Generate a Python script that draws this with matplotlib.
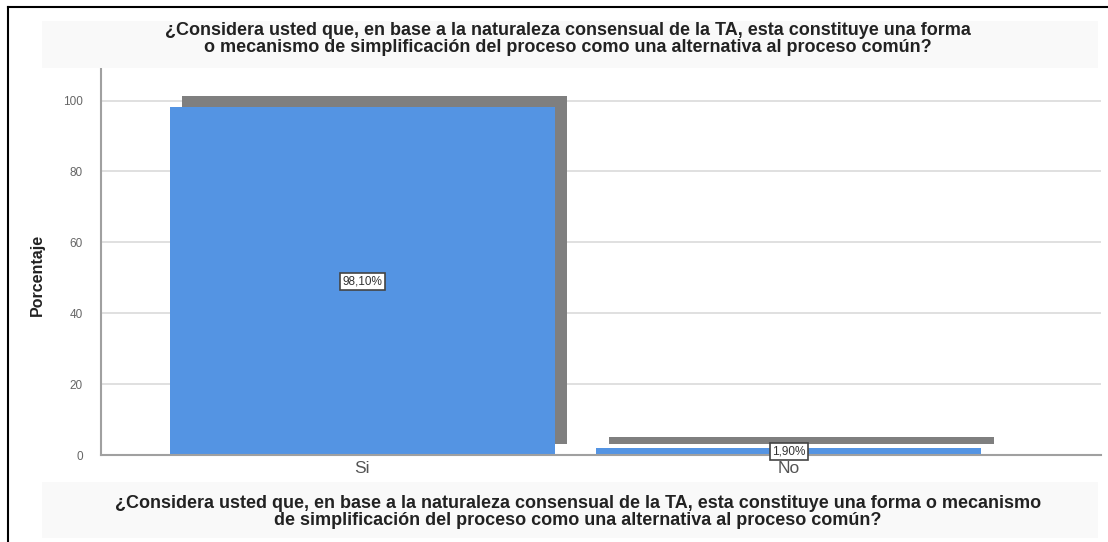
import matplotlib
matplotlib.use("Agg")
import matplotlib.pyplot as plt
import matplotlib.transforms as mtransforms
from matplotlib.patches import Rectangle
from matplotlib.lines import Line2D

# data
categorias = ["Si", "No"]
porcentajes = [98.1, 1.9]
etiquetas = ["98,10%", "1,90%"]
titulo = ("¿Considera usted que, en base a la naturaleza consensual de la TA, esta constituye una forma\n"
          "o mecanismo de simplificación del proceso como una alternativa al proceso común?")
titulo_x = ("¿Considera usted que, en base a la naturaleza consensual de la TA, esta constituye una forma o mecanismo\n"
            "de simplificación del proceso como una alternativa al proceso común?")
yticks = [0, 20, 40, 60, 80, 100]

azul = "#5494e3"
sombra = "#7f7f7f"
W, H = 1108, 542

plt.rcParams['font.family'] = ['Liberation Sans', 'DejaVu Sans']
fig = plt.figure(figsize=(W / 100, H / 100), dpi=100)
fig.patch.set_facecolor("white")

# light bands behind the titles
fig.patches.append(Rectangle((42 / W, 1 - 68 / H), (1098 - 42) / W, 47 / H,
                             transform=fig.transFigure, facecolor="#f9f9f9", edgecolor="none", zorder=0))
fig.patches.append(Rectangle((42 / W, 1 - 538 / H), (1098 - 42) / W, 56 / H,
                             transform=fig.transFigure, facecolor="#f9f9f9", edgecolor="none", zorder=0))
# outer frame lines (left and top)
fig.add_artist(Line2D([8 / W, 8 / W], [0, 1 - 7 / H], transform=fig.transFigure, color="black", lw=1.5))
fig.add_artist(Line2D([8 / W, 1], [1 - 7 / H, 1 - 7 / H], transform=fig.transFigure, color="black", lw=1.5))

ax = fig.add_axes([101 / W, 1 - 455 / H, (1101 - 101) / W, (455 - 69) / H])
ax.set_facecolor("none")

x = list(range(len(categorias)))
# shadow bars: same bars shifted right and up
offset = mtransforms.ScaledTranslation(12.5 / 100, 11.5 / 100, fig.dpi_scale_trans)
ax.bar(x, porcentajes, width=0.903, color=sombra, zorder=2,
       transform=ax.transData + offset)
ax.bar(x, porcentajes, width=0.903, color=azul, zorder=3)

for i, (v, t) in enumerate(zip(porcentajes, etiquetas)):
    ax.text(i, v / 2, t, ha="center", va="center", fontsize=8.5, color="#333333", zorder=5,
            bbox=dict(boxstyle="square,pad=0.2", facecolor="white", edgecolor="#444444", lw=1.2))

ax.set_xlim(-0.613, 1.732)
ax.set_ylim(0, 108.9)
ax.set_yticks(yticks)
ax.set_xticks(x)
ax.set_xticklabels(categorias, fontsize=12.5, color="#555555")
ax.tick_params(axis="y", length=0, labelsize=8.5, labelcolor="#666666", pad=13)
ax.tick_params(axis="x", length=0, pad=4)
ax.yaxis.grid(True, color="#dadada", lw=1.2, zorder=1)
ax.set_axisbelow(True)
for s in ["top", "right"]:
    ax.spines[s].set_visible(False)
for s in ["left", "bottom"]:
    ax.spines[s].set_color("#a0a0a0")
    ax.spines[s].set_linewidth(1.5)
    ax.spines[s].set_zorder(4)

ax.set_ylabel("Porcentaje", fontsize=11.5, fontweight="bold", color="#222222")
ax.yaxis.set_label_coords(-0.056, 0.466)

fig.text(568 / W, 1 - 39 / H, titulo, ha="center", va="center", fontsize=13,
         fontweight="bold", color="#222222", linespacing=1.0)
fig.text(578 / W, 1 - 512 / H, titulo_x, ha="center", va="center", fontsize=13,
         fontweight="bold", color="#222222", linespacing=1.0)

fig.savefig("out.png", dpi=100)
